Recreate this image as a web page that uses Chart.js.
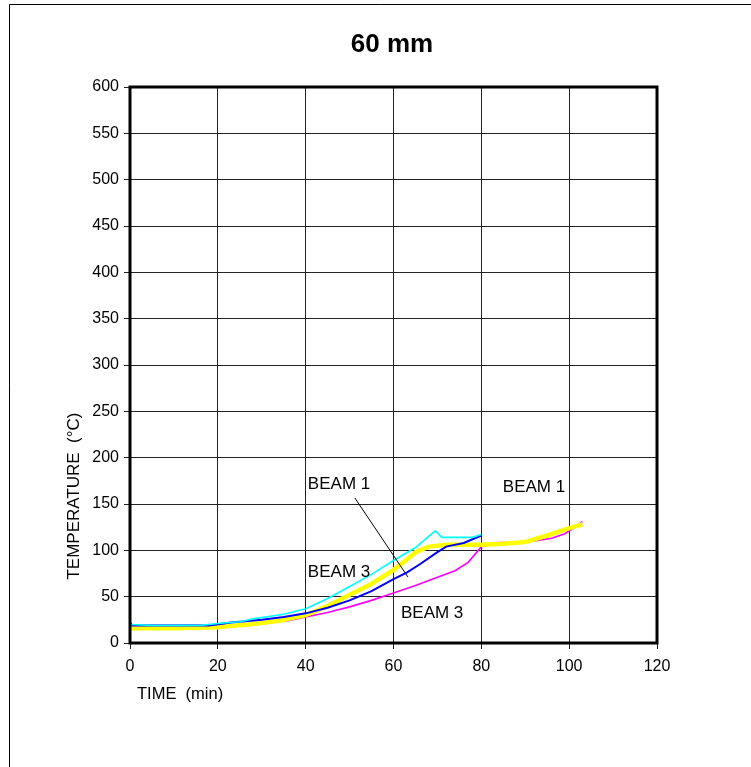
<!DOCTYPE html>
<html>
<head>
<meta charset="utf-8">
<script src="https://cdn.jsdelivr.net/npm/chart.js@4"></script>
<style>
  html, body { margin: 0; padding: 0; background: #fff; }
  #wrap { width: 751px; height: 767px; }
</style>
</head>
<body>
<div id="wrap"><canvas id="beamChart" width="751" height="767"></canvas></div>
<script>
// readings taken off the original plot (time in min, temperature in deg C)
const cyanTime = [0, 5, 10, 16, 20, 25, 28, 35, 40, 45, 50, 55, 60, 65, 68, 69.5, 71, 75, 78, 80];
const cyanTemp = [20, 19, 19, 19, 21, 23, 26, 31, 37, 48, 61, 74, 89, 103, 115, 121, 114, 114, 114, 117];

const blueTime = [0, 0.5, 5, 10, 18, 23, 30, 35, 40, 45, 50, 55, 60, 63, 66, 70, 72, 76, 80];
const blueTemp = [22, 19, 19, 19, 19, 22, 25, 28, 32, 38, 46, 56, 69, 76, 85, 98, 104, 108, 116];

const yellowTime = [0, 10, 20, 22, 27, 34, 40, 45, 50, 55, 60, 63, 65, 68, 72, 76, 80, 85, 90, 95, 100, 103];
const yellowTemp = [16, 16, 17, 18, 20, 24, 30, 40, 52, 64, 79, 90, 98, 104, 106, 106, 106, 107, 109, 116, 124, 128];

const magentaTime = [0, 10, 17, 25, 30, 36, 40, 45, 50, 55, 60, 65, 70, 74, 77, 80, 83, 88, 92, 96, 99, 101, 103];
const magentaTemp = [19, 19, 19, 20, 22, 24, 28, 33, 39, 46, 54, 62, 71, 78, 87, 104, 108, 109, 110, 113, 118, 124, 131];

const xTicks = [0, 20, 40, 60, 80, 100, 120];
const yTicks = [0, 50, 100, 150, 200, 250, 300, 350, 400, 450, 500, 550, 600];

// curve labels, placed in data units
const beamLabels = [
  { text: 'BEAM 1', t: 40.5, temp: 166 },
  { text: 'BEAM 3', t: 40.5, temp: 71 },
  { text: 'BEAM 3', t: 61.7, temp: 27 },
  { text: 'BEAM 1', t: 84.9, temp: 163 }
];
const leader = [[51.2, 156.5], [63.3, 71.2]];

function toPoints(ts, vs) {
  return ts.map((t, i) => ({ x: t, y: vs[i] }));
}

const FONT = 'Arial, "Liberation Sans", sans-serif';

const decorations = {
  id: 'decorations',
  afterDraw(chart) {
    const ctx = chart.ctx;
    const a = chart.chartArea;
    const xs = chart.scales.x, ys = chart.scales.y;
    ctx.save();

    // frame around plot area
    ctx.strokeStyle = '#000';
    ctx.lineWidth = 3;
    ctx.strokeRect(a.left, a.top, a.right - a.left, a.bottom - a.top);

    // outer chart border (only left/top visible in the original)
    ctx.lineWidth = 1;
    ctx.beginPath();
    ctx.moveTo(9.5, 767);
    ctx.lineTo(9.5, 4.5);
    ctx.lineTo(751, 4.5);
    ctx.stroke();

    ctx.fillStyle = '#000';
    ctx.font = 'bold 26px ' + FONT;
    ctx.textAlign = 'center';
    ctx.textBaseline = 'middle';
    ctx.fillText('60 mm', 392, 45);

    ctx.font = '16.5px ' + FONT;
    ctx.textAlign = 'left';
    ctx.fillText('TIME  (min)', 137, 694);

    ctx.save();
    ctx.translate(74, 496);
    ctx.rotate(-Math.PI / 2);
    ctx.textAlign = 'center';
    ctx.font = '17px ' + FONT;
    ctx.fillText('TEMPERATURE  (\u00B0C)', 0, 0);
    ctx.restore();

    ctx.font = '17px ' + FONT;
    ctx.textBaseline = 'alphabetic';
    beamLabels.forEach(l => {
      ctx.fillText(l.text, xs.getPixelForValue(l.t), ys.getPixelForValue(l.temp));
    });

    ctx.lineWidth = 1;
    ctx.beginPath();
    ctx.moveTo(xs.getPixelForValue(leader[0][0]), ys.getPixelForValue(leader[0][1]));
    ctx.lineTo(xs.getPixelForValue(leader[1][0]), ys.getPixelForValue(leader[1][1]));
    ctx.stroke();

    ctx.restore();
  }
};

function lineSet(label, ts, vs, color, width) {
  return {
    label: label,
    data: toPoints(ts, vs),
    borderColor: color,
    backgroundColor: color,
    borderWidth: width,
    pointRadius: 0,
    tension: 0,
    fill: false
  };
}

new Chart(document.getElementById('beamChart').getContext('2d'), {
  type: 'line',
  data: {
    datasets: [
      lineSet('cyan', cyanTime, cyanTemp, '#00FFFF', 1.6),
      lineSet('blue', blueTime, blueTemp, '#0000FF', 2),
      lineSet('yellow', yellowTime, yellowTemp, '#FFFF00', 4.5),
      lineSet('magenta', magentaTime, magentaTemp, '#FF00FF', 1.6)
    ]
  },
  options: {
    responsive: false,
    animation: false,
    layout: { padding: { left: 0, top: 87, right: 94, bottom: 0 } },
    plugins: {
      legend: { display: false },
      title: { display: false },
      tooltip: { enabled: false }
    },
    scales: {
      x: {
        type: 'linear',
        min: 0,
        max: 120,
        afterBuildTicks: s => { s.ticks = xTicks.map(v => ({ value: v })); },
        afterFit: s => { s.height = 124; },
        ticks: { color: '#000', font: { family: FONT, size: 16 }, padding: 8, maxRotation: 0 },
        grid: { color: '#222', lineWidth: 1, tickLength: 6, drawTicks: true },
        border: { display: false }
      },
      y: {
        min: 0,
        max: 600,
        afterBuildTicks: s => { s.ticks = yTicks.map(v => ({ value: v })); },
        afterFit: s => { s.width = 130; },
        ticks: { color: '#000', font: { family: FONT, size: 16 }, padding: 5 },
        grid: { color: '#222', lineWidth: 1, tickLength: 6, drawTicks: true },
        border: { display: false }
      }
    }
  },
  plugins: [decorations]
});
</script>
</body>
</html>
